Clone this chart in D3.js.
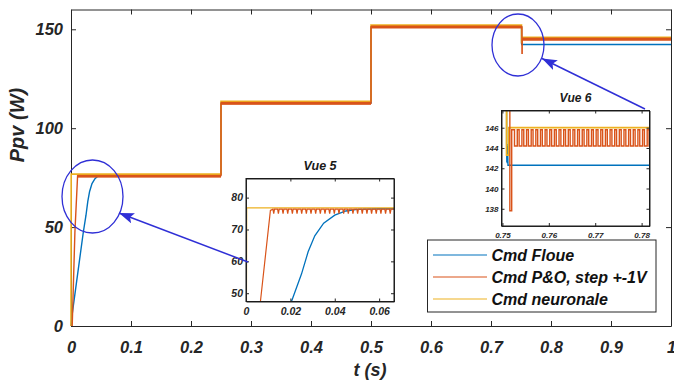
<!DOCTYPE html>
<html>
<head>
<meta charset="utf-8">
<script src="https://cdn.jsdelivr.net/npm/d3@7/dist/d3.min.js"></script>
<style>
  body { margin: 0; background: #fff; }
  text { font-family: "Liberation Sans", Arial, sans-serif; font-weight: bold; font-style: italic; }
</style>
</head>
<body>
<script>
// --- data ---
const xTicks = [0, 0.1, 0.2, 0.3, 0.4, 0.5, 0.6, 0.7, 0.8, 0.9, 1];
const yTicks = [0, 50, 100, 150];
const names = ["Cmd Floue", "Cmd P&O, step +-1V", "Cmd neuronale"];

// Cmd Floue (fuzzy)
const fuzzyPts = [[0,0],[0.002,6],[0.0205,47.4],[0.025,56],[0.028,63],[0.031,68],[0.035,72],[0.04,74.5],
  [0.045,75.8],[0.05,76.3],[0.06,76.5],[0.25,76.5],[0.25,112.8],[0.5,112.8],[0.5,151.2],[0.7509,151.2],
  [0.7509,144.6],[0.75095,142.6],[0.751,144.4],[0.75105,142.5],[0.7511,144.2],[0.7512,142.3],[1,142.3]];
// Cmd neuronale
const neuralPts = [[0,0],[0.0003,76.8],[0.25,76.8],[0.25,113.6],[0.5,113.6],[0.5,152.1],[0.7509,152.1],
  [0.7509,143.3],[0.7514,143.3],[0.7514,146],[1,146]];
// Cmd P&O : mean trajectory, oscillation bands [t0, t1, lo, hi], dip instants
const poPts = [[0.002,0],[0.0065,47.4],[0.011,76],[0.25,76],[0.25,112.6],[0.5,112.6],[0.5,151.2],
  [0.7516,151.2],[0.7516,137.8],[0.752,137.8],[0.752,145],[1,145]];
const poBands = [[0.011,0.25,75.0,76.4],[0.25,0.5,111.8,113.3],[0.5,0.7516,150.4,151.9],[0.752,1,144.2,145.8]];
const poDips5 = [0.0125,0.0146,0.0167,0.0188,0.0209,0.023,0.0251,0.0272,0.0293,0.0314,0.0335,0.0356,0.0377,
  0.0398,0.0419,0.044,0.0461,0.0482,0.0503,0.0524,0.0545,0.0566,0.0587,0.0608,0.0629,0.065];
const poDips6 = [0.7526,0.7536,0.7546,0.7556,0.7566,0.7576,0.7586,0.7596,0.7606,0.7616,0.7626,0.7636,0.7646,
  0.7656,0.7666,0.7676,0.7686,0.7696,0.7706,0.7716,0.7726,0.7736,0.7746,0.7756,0.7766,0.7776,0.7786,0.7796,0.7806,0.7816];

const v5xTicks = [0, 0.02, 0.04, 0.06], v5yTicks = [50, 60, 70, 80];
const v6xTicks = [0.75, 0.76, 0.77, 0.78], v6yTicks = [138, 140, 142, 144, 146];

const colors = ["#0072BD", "#D95319", "#EDB120"];
const axisCol = "#262626", markCol = "#2f2fd6";

const svg = d3.select("body").append("svg").attr("width", 674).attr("height", 381);

const x = d3.scaleLinear([0, 1], [71, 671]);
const y = d3.scaleLinear([0, 160], [326, 9.5]);
const fmt = d => String(+d.toFixed(2));

function line(xs, ys) { return d3.line().x(d => xs(d[0])).y(d => ys(d[1])); }

// main axes
const main = svg.append("g");
main.append("rect").attr("x", 71).attr("y", 9.5).attr("width", 600).attr("height", 316.5).attr("fill", "#fff");

function styleAxis(g, size) {
  g.select(".domain").attr("stroke", axisCol);
  g.selectAll(".tick line").attr("stroke", axisCol);
  g.selectAll(".tick text").attr("fill", axisCol).style("font-size", size + "px");
}
main.append("g").attr("transform", "translate(0,326)")
  .call(d3.axisBottom(x).tickValues(xTicks).tickFormat(fmt).tickSizeInner(-5).tickSizeOuter(0).tickPadding(15))
  .call(g => styleAxis(g, 16.5));
main.append("g").attr("transform", "translate(0,9.5)")
  .call(d3.axisTop(x).tickValues(xTicks).tickFormat("").tickSizeInner(-5).tickSizeOuter(0))
  .call(g => styleAxis(g, 16));
main.append("g").attr("transform", "translate(71,0)")
  .call(d3.axisLeft(y).tickValues(yTicks).tickFormat(fmt).tickSizeInner(-5).tickSizeOuter(0).tickPadding(8))
  .call(g => styleAxis(g, 16.5));
main.append("g").attr("transform", "translate(671,0)")
  .call(d3.axisRight(y).tickValues(yTicks).tickFormat("").tickSizeInner(-5).tickSizeOuter(0))
  .call(g => styleAxis(g, 16));

// main series
main.append("path").attr("d", line(x, y)(fuzzyPts)).attr("fill", "none").attr("stroke", colors[0]).attr("stroke-width", 1.4);
main.append("path").attr("d", line(x, y)(neuralPts)).attr("fill", "none").attr("stroke", colors[2]).attr("stroke-width", 1.6);
main.append("path").attr("d", line(x, y)(poPts)).attr("fill", "none").attr("stroke", colors[1]).attr("stroke-width", 1.4);
main.selectAll(".band").data(poBands).join("rect")
  .attr("x", d => x(d[0])).attr("width", d => x(d[1]) - x(d[0]))
  .attr("y", d => y(d[3])).attr("height", d => y(d[2]) - y(d[3]))
  .attr("fill", colors[1]);

main.append("text").attr("transform", "translate(24,125) rotate(-90)").attr("text-anchor", "middle")
  .style("font-size", "20px").attr("fill", axisCol).text("Ppv (W)");
main.append("text").attr("x", 370).attr("y", 376).attr("text-anchor", "middle")
  .style("font-size", "18px").attr("fill", axisCol).text("t (s)");

// zoom markers
svg.append("defs").append("marker").attr("id", "head").attr("markerUnits", "userSpaceOnUse")
  .attr("viewBox", "0 0 14 10").attr("refX", 14).attr("refY", 5)
  .attr("markerWidth", 15).attr("markerHeight", 11).attr("orient", "auto")
  .append("path").attr("d", "M0,0L14,5L0,10L3,5z").attr("fill", markCol);

svg.append("ellipse").attr("cx", 92.5).attr("cy", 196.5).attr("rx", 30.5).attr("ry", 36.5)
  .attr("fill", "none").attr("stroke", markCol).attr("stroke-width", 1.3);
svg.append("ellipse").attr("cx", 518).attr("cy", 45).attr("rx", 26).attr("ry", 31)
  .attr("fill", "none").attr("stroke", markCol).attr("stroke-width", 1.3);

// insets
function inset(id, box, xd, yd, xt, yt, tickFont, title, titleFont, series) {
  const xs = d3.scaleLinear(xd, [box[0], box[2]]);
  const ys = d3.scaleLinear(yd, [box[3], box[1]]);
  const g = svg.append("g");
  g.append("rect").attr("x", box[0]).attr("y", box[1]).attr("width", box[2] - box[0]).attr("height", box[3] - box[1])
    .attr("fill", "#fff");
  g.append("clipPath").attr("id", id).append("rect")
    .attr("x", box[0]).attr("y", box[1]).attr("width", box[2] - box[0]).attr("height", box[3] - box[1]);
  const lines = g.append("g").attr("clip-path", `url(#${id})`);
  series.forEach(s => lines.append("path").attr("d", line(xs, ys)(s.pts)).attr("fill", "none")
    .attr("stroke", s.color).attr("stroke-width", s.w));
  g.append("g").attr("transform", `translate(0,${box[3]})`)
    .call(d3.axisBottom(xs).tickValues(xt).tickFormat(fmt).tickSizeInner(-3).tickSizeOuter(0).tickPadding(6))
    .call(a => styleAxis(a, tickFont));
  g.append("g").attr("transform", `translate(0,${box[1]})`)
    .call(d3.axisTop(xs).tickValues(xt).tickFormat("").tickSizeInner(-3).tickSizeOuter(0))
    .call(a => styleAxis(a, tickFont));
  g.append("g").attr("transform", `translate(${box[0]},0)`)
    .call(d3.axisLeft(ys).tickValues(yt).tickFormat(fmt).tickSizeInner(-3).tickSizeOuter(0).tickPadding(3))
    .call(a => styleAxis(a, tickFont));
  g.append("g").attr("transform", `translate(${box[2]},0)`)
    .call(d3.axisRight(ys).tickValues(yt).tickFormat("").tickSizeInner(-3).tickSizeOuter(0))
    .call(a => styleAxis(a, tickFont));
  g.append("rect").attr("x", box[0]).attr("y", box[1]).attr("width", box[2] - box[0]).attr("height", box[3] - box[1])
    .attr("fill", "none").attr("stroke", "#1a1a1a").attr("stroke-width", 1);
  g.append("text").attr("x", (box[0] + box[2]) / 2).attr("y", box[1] - 9).attr("text-anchor", "middle")
    .style("font-size", titleFont + "px").attr("fill", "#1a1a1a").text(title);
}

// Vue 5 : start-up
const po5 = poPts.filter(d => d[0] <= 0.011);
poDips5.forEach(t => po5.push([t - 0.00035, 76.4], [t, 75.0], [t + 0.00035, 76.4]));
po5.push([0.07, 76.4]);
inset("clip5", [246, 178.5, 394, 301.5], [0, 0.0667], [47.4, 86], v5xTicks, v5yTicks, 10.5, "Vue 5", 12.5, [
  {pts: fuzzyPts, color: colors[0], w: 1.3},
  {pts: neuralPts, color: colors[2], w: 1.3},
  {pts: po5, color: colors[1], w: 1.2}
]);

// Vue 6 : step at t = 0.75 s
const po6 = poPts.filter(d => d[0] >= 0.5 && d[0] <= 0.752 && d[1] > 140 || (d[0] >= 0.7516 && d[0] <= 0.752));
po6.push([0.752, 145.8]);
poDips6.forEach(t => po6.push([t, 145.8], [t, 144.2], [t + 0.0006, 144.2], [t + 0.0006, 145.8]));
po6.push([0.79, 145.8]);
inset("clip6", [501.5, 110.5, 649.5, 226], [0.7498, 0.7817], [136.3, 147.7], v6xTicks, v6yTicks, 8, "Vue 6", 12, [
  {pts: fuzzyPts, color: colors[0], w: 1.4},
  {pts: neuralPts, color: colors[2], w: 1.8},
  {pts: po6, color: colors[1], w: 1.4}
]);

// arrows
svg.append("line").attr("x1", 248).attr("y1", 262).attr("x2", 119).attr("y2", 213)
  .attr("stroke", markCol).attr("stroke-width", 1.5).attr("marker-end", "url(#head)");
svg.append("line").attr("x1", 645).attr("y1", 109).attr("x2", 542).attr("y2", 58.5)
  .attr("stroke", markCol).attr("stroke-width", 1.5).attr("marker-end", "url(#head)");

// legend
const leg = svg.append("g");
leg.append("rect").attr("x", 427.5).attr("y", 240).attr("width", 228.5).attr("height", 72)
  .attr("fill", "#fff").attr("stroke", axisCol).attr("stroke-width", 1);
const order = [0, 1, 2];
leg.selectAll(".item").data(order).join("g")
  .attr("transform", (d, i) => `translate(0,${255 + i * 22})`)
  .each(function (d) {
    const it = d3.select(this);
    it.append("line").attr("x1", 433).attr("x2", 487).attr("stroke", colors[d]).attr("stroke-width", 1.2);
    it.append("text").attr("x", 491.5).attr("dy", "0.35em").style("font-size", "16px").attr("fill", "#111")
      .text(names[d]);
  });
</script>
</body>
</html>
